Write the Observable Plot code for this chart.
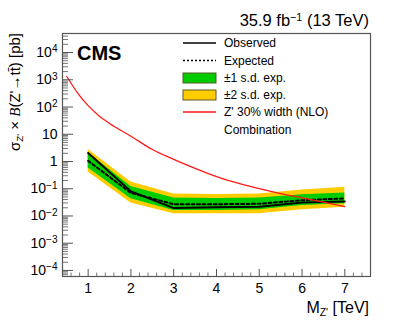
<!DOCTYPE html>
<html><head><meta charset="utf-8">
<script src="https://cdn.jsdelivr.net/npm/d3@7"></script>
<script src="https://cdn.jsdelivr.net/npm/@observablehq/plot@0.6"></script>
<style>
body{margin:0;background:#fff}
svg{font-family:"Liberation Sans",Arial,Helvetica,sans-serif}
</style>
</head><body><div id="chart"></div>
<script>
// ---- data ----
const masses   = [1, 2, 3, 4, 5, 6, 7];               // M_Z' [TeV]
const observed = [2.05, 0.08, 0.0195, 0.021, 0.022, 0.031, 0.034];
const expected = [1.05, 0.07, 0.027, 0.027, 0.028, 0.038, 0.044];
const exp1Lo   = [0.58, 0.043, 0.016, 0.016, 0.017, 0.024, 0.028];
const exp1Hi   = [2.1, 0.12, 0.046, 0.044, 0.046, 0.06, 0.07];
const exp2Lo   = [0.41, 0.03, 0.012, 0.012, 0.012, 0.017, 0.021];
const exp2Hi   = [2.75, 0.175, 0.064, 0.062, 0.064, 0.09, 0.113];
const theoryMass = [0.5, 0.75, 1, 1.25, 1.5, 2, 2.5, 3, 3.5, 4, 4.5, 5, 5.5, 6, 6.5, 7];
const theoryXsec = [1320, 330, 112, 48, 25, 8.5, 2.75, 1.2, 0.56, 0.28, 0.16, 0.10, 0.066, 0.046, 0.032, 0.022];
const xTicks = [1, 2, 3, 4, 5, 6, 7];
const yTicks = [1e-4, 1e-3, 1e-2, 1e-1, 1, 10, 1e2, 1e3, 1e4];
const yTickLabels = ["10^-4", "10^-3", "10^-2", "10^-1", "1", "10", "10^2", "10^3", "10^4"];
const legendLabels = ["Observed", "Expected", "\u00b11 s.d. exp.", "\u00b12 s.d. exp.", "Z' 30% width (NLO)", "Combination"];

// ---- tables built from the arrays ----
const rows = masses.map((m, i) => ({m, obs: observed[i], exp: expected[i], lo1: exp1Lo[i], hi1: exp1Hi[i], lo2: exp2Lo[i], hi2: exp2Hi[i]}));
const theory = theoryMass.map((m, i) => ({m, xs: theoryXsec[i]}));

const W = 411, H = 326, mL = 62, mR = 41, mT = 33, mB = 50;
const fw = W - mL - mR, fh = H - mT - mB;
const yDomain = [6e-5, 5e4], xDomain = [0.4, 7.6];
const yMinor = [];
for (let e = -5; e <= 4; e++) for (let k = 2; k <= 9; k++) { const v = k * Math.pow(10, e); if (v >= yDomain[0] && v <= yDomain[1]) yMinor.push(v); }
const xMinor = [];
for (let i = 2; i <= 38; i++) { if (i % 5 !== 0) xMinor.push(i / 5); }

const GREEN = "#00cc00", YELLOW = "#ffcc00", RED = "#ff1a1a";

const plot = Plot.plot({
  width: W, height: H,
  marginLeft: mL, marginRight: mR, marginTop: mT, marginBottom: mB,
  x: {domain: xDomain},
  y: {type: "log", domain: yDomain},
  style: {fontFamily: "'Liberation Sans', Arial, sans-serif", background: "white", color: "black"},
  marks: [
    Plot.areaY(rows, {x: "m", y1: "lo2", y2: "hi2", fill: YELLOW}),
    Plot.areaY(rows, {x: "m", y1: "lo1", y2: "hi1", fill: GREEN}),
    Plot.line(rows, {x: "m", y: "exp", stroke: "black", strokeWidth: 2, strokeDasharray: "3,2.5"}),
    Plot.line(rows, {x: "m", y: "obs", stroke: "black", strokeWidth: 2}),
    Plot.line(theory, {x: "m", y: "xs", stroke: RED, strokeWidth: 1.3, curve: "monotone-x"}),
    Plot.tickY(yTicks, {y: d => d, insetRight: fw - 11, stroke: "#555"}),
    Plot.tickY(yMinor, {y: d => d, insetRight: fw - 6, stroke: "#777"}),
    Plot.tickX(xTicks, {x: d => d, insetTop: fh - 7, stroke: "#555"}),
    Plot.tickX(xMinor, {x: d => d, insetTop: fh - 3.5, stroke: "#777"}),
    Plot.axisX({ticks: xTicks, tickSize: 0, tickPadding: 7, fontSize: 14, label: null, tickFormat: d => String(d)}),
    Plot.axisY({ticks: yTicks, tickSize: 0, tickPadding: 5, fontSize: 14, label: null,
      tickFormat: d => yTickLabels[yTicks.indexOf(d)]}),
    Plot.frame({stroke: "#555", strokeWidth: 1.2})
  ]
});
document.getElementById("chart").appendChild(plot);

const svg = d3.select(plot);
// superscripts in y tick labels
svg.selectAll("text").each(function() {
  const t = this.textContent;
  if (t.includes("^") && !this.querySelector("tspan")) {
    const [base, ex] = t.split("^");
    const el = d3.select(this);
    el.text(base);
    el.append("tspan").attr("dy", "-0.45em").attr("font-size", "0.72em").text(ex.replace("-", "\u2212"));
  }
});

const g = svg.append("g").attr("fill", "black").attr("text-anchor", "start");
// top-right luminosity label
const lumi = g.append("text").attr("x", 369).attr("y", 26).attr("text-anchor", "end").attr("font-size", 16.5);
lumi.append("tspan").text("35.9 fb");
lumi.append("tspan").attr("dy", "-0.45em").attr("font-size", "0.65em").text("\u22121");
lumi.append("tspan").attr("dy", "0.29em").text(" (13 TeV)");
// CMS
g.append("text").attr("x", 77).attr("y", 60).attr("text-anchor", "start").attr("font-size", 20).attr("font-weight", "bold").text("CMS");
// x label
const xl = g.append("text").attr("x", 369).attr("y", 313).attr("text-anchor", "end").attr("font-size", 16);
xl.append("tspan").text("M");
xl.append("tspan").attr("dy", "0.3em").attr("font-size", "0.65em").text("Z'");
xl.append("tspan").attr("dy", "-0.195em").text(" [TeV]");
// y label
const yl = g.append("text").attr("transform", "translate(20,33) rotate(-90)").attr("text-anchor", "end").attr("font-size", 15);
yl.append("tspan").text("\u03c3");
yl.append("tspan").attr("dy", "0.3em").attr("font-size", "0.65em").text("Z'");
yl.append("tspan").attr("dy", "-0.195em").text(" \u00d7 ");
yl.append("tspan").attr("font-family", "'Liberation Serif', serif").attr("font-style", "italic").text("B");
yl.append("tspan").text("(Z'\u2192tt\u0304) [pb]");

// legend
const lx0 = 183, lx1 = 216, tx = 224, rowsY = [43, 60.5, 78, 95, 112, 129.5];
const lg = svg.append("g").attr("font-size", 12).attr("text-anchor", "start").attr("fill", "black");
lg.append("line").attr("x1", lx0).attr("x2", lx1).attr("y1", rowsY[0]).attr("y2", rowsY[0]).attr("stroke", "black").attr("stroke-width", 1.5);
lg.append("line").attr("x1", lx0).attr("x2", lx1).attr("y1", rowsY[1]).attr("y2", rowsY[1]).attr("stroke", "black").attr("stroke-width", 1.5).attr("stroke-dasharray", "2,2");
lg.append("rect").attr("x", lx0).attr("y", rowsY[2] - 5).attr("width", lx1 - lx0).attr("height", 10).attr("fill", GREEN).attr("stroke", "#5a5a2a");
lg.append("rect").attr("x", lx0).attr("y", rowsY[3] - 5).attr("width", lx1 - lx0).attr("height", 10).attr("fill", YELLOW).attr("stroke", "#5a5a2a");
lg.append("line").attr("x1", lx0).attr("x2", lx1).attr("y1", rowsY[4]).attr("y2", rowsY[4]).attr("stroke", RED).attr("stroke-width", 1.3);
legendLabels.forEach((s, i) => {
  lg.append("text").attr("x", tx).attr("y", rowsY[i]).attr("dy", "0.35em").attr("text-anchor", "start").text(s);
});
</script>
</body></html>
